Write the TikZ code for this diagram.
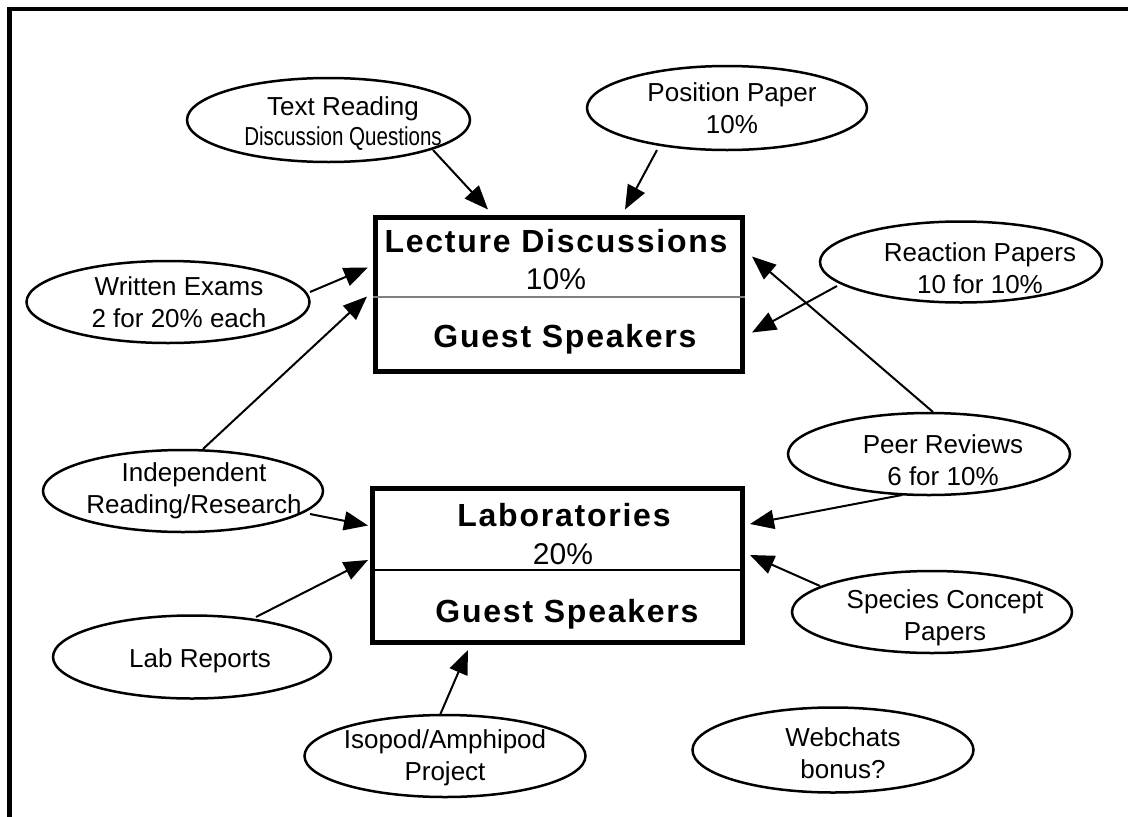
\documentclass[tikz,border=0pt]{standalone}
\usepackage{fontspec}
\setmainfont{Liberation Sans}
\newfontfamily\boxbold{Liberation Sans}[LetterSpace=5.5]
\usetikzlibrary{shapes.geometric,arrows.meta,calc}
\tikzset{
  oval/.style={draw, line width=2.5pt, ellipse, inner sep=0pt},
  ovaltext/.style={align=center, inner sep=0pt, font=\fontsize{26}{32}\selectfont},
  bigbox/.style={draw, line width=5pt, rectangle, inner sep=0pt},
  boxtitle/.style={anchor=base, font=\boxbold\bfseries\fontsize{32}{38}\selectfont},
  boxpct/.style={anchor=base, font=\fontsize{30}{36}\selectfont},
  conn/.style={line width=2pt, -{Triangle[length=24pt,width=19pt]}}
}
\begin{document}
\begin{tikzpicture}[x=1pt,y=-1pt]
\useasboundingbox (0,0) rectangle (1128,817);
% frame
\draw[line width=4.5pt] (1128,9) -- (9.5,9) -- (9.5,817);

% boxes
\node[bigbox, minimum width=367pt, minimum height=154pt] (lec) at (559,294) {};
\node[bigbox, minimum width=370pt, minimum height=154pt] (lab) at (557.5,565) {};
\draw[line width=1.5pt, gray] (lec.west |- 0,297) -- (lec.east |- 0,297);
\draw[line width=2pt] (lab.west |- 0,570) -- (lab.east |- 0,570);

\node[boxtitle] (lect) at (556,252) {Lecture Discussions};
\node[boxpct] (lecp) at (556,289) {10\%};
\node[boxtitle] (lecg) at (565,347) {Guest Speakers};
\node[boxtitle] (labt) at (564,526) {Laboratories};
\node[boxpct] (labp) at (563,564) {20\%};
\node[boxtitle] (labg) at (567,622) {Guest Speakers};

% ellipses
\node[oval, minimum width=283pt, minimum height=84pt] (tr) at (328.5,120) {};
\node[ovaltext, font=\fontsize{26}{30}\selectfont] (trt) at (343,124)
  {Text Reading\\\scalebox{0.79}[1]{Discussion Questions}};
\node[oval, minimum width=280pt, minimum height=84pt] (pp) at (727,108) {};
\node[ovaltext] (ppt) at (732,108) {Position Paper\\10\%};
\node[oval, minimum width=283pt, minimum height=82pt] (we) at (168,302) {};
\node[ovaltext] (wet) at (179,302) {Written Exams\\2 for 20\% each};
\node[oval, minimum width=282pt, minimum height=81pt] (rp) at (961,262) {};
\node[ovaltext] (rpt) at (980,268) {Reaction Papers\\10 for 10\%};
\node[oval, minimum width=280pt, minimum height=82pt] (ir) at (183,491) {};
\node[ovaltext] (irt) at (194,491) {Independent\\Reading/Research};
\node[oval, minimum width=282pt, minimum height=82pt] (pr) at (929,454) {};
\node[ovaltext] (prt) at (943,460) {Peer Reviews\\6 for 10\%};
\node[oval, minimum width=280pt, minimum height=82pt] (sc) at (932,612) {};
\node[ovaltext] (sct) at (945,618) {Species Concept\\Papers};
\node[oval, minimum width=278pt, minimum height=83pt] (lr) at (192,657) {};
\node[ovaltext] (lrt) at (200,661) {Lab Reports};
\node[oval, minimum width=281pt, minimum height=82pt] (is) at (445,756) {};
\node[ovaltext] (ist) at (445,758) {Isopod/Amphipod\\Project};
\node[oval, minimum width=281pt, minimum height=85pt] (wc) at (833,750) {};
\node[ovaltext] (wct) at (843,753) {Webchats\\bonus?};

% connectors
\draw[conn] ($(tr.center)+(104.5,30)$) -- ($(lec.north west)+(115,-5)$);
\draw[conn] ($(pp.center)+(-70,42)$) -- ($(lec.north west)+(252,-5)$);
\draw[conn] ($(we.center)+(142,-10)$) -- ($(lec.north west)+(-5,53)$);
\draw[conn] ($(ir.center)+(20,-42)$) -- ($(lec.north west)+(-6,82)$);
\draw[conn] ($(rp.center)+(-124,24)$) -- ($(lec.north east)+(7,118)$);
\draw[conn] ($(pr.center)+(4,-42)$) -- ($(lec.north east)+(7,42)$);
\draw[conn] ($(ir.center)+(127,23)$) -- ($(lab.north west)+(-2,40)$);
\draw[conn] ($(lr.center)+(64,-40)$) -- ($(lab.north west)+(-2,74.5)$);
\draw[conn] ($(pr.center)+(-27,41)$) -- ($(lab.north east)+(5,38.5)$);
\draw[conn] ($(sc.center)+(-112,-26)$) -- ($(lab.north east)+(5,69.5)$);
\draw[conn] ($(is.center)+(-5,-41)$) -- ($(lab.south west)+(98,5.5)$);
\end{tikzpicture}
\end{document}
